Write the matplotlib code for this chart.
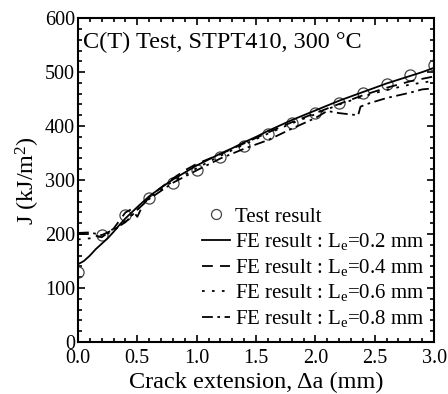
import matplotlib
matplotlib.use("Agg")
import matplotlib.pyplot as plt
from matplotlib.ticker import MultipleLocator

plt.rcParams["font.family"] = ["Liberation Serif", "DejaVu Serif"]
plt.rcParams["mathtext.fontset"] = "custom"
plt.rcParams["mathtext.rm"] = "Liberation Serif"
plt.rcParams["mathtext.it"] = "Liberation Serif:italic"

# test data
test_x = [0.0, 0.2, 0.4, 0.6, 0.8, 1.0, 1.2, 1.4, 1.6, 1.8, 2.0, 2.2, 2.4, 2.6, 2.8, 3.0]
test_j = [130, 198, 235, 267, 294, 318, 343, 363, 385, 405, 424, 442, 461, 478, 494, 513]

# FE results
fe02_x = [0.0, 0.05, 0.1, 0.15, 0.2, 0.25, 0.3, 0.35, 0.4, 0.5, 0.6, 0.7, 0.8, 0.9, 1.0, 1.1,
          1.2, 1.3, 1.4, 1.5, 1.6, 1.7, 1.8, 1.9, 2.0, 2.1, 2.2, 2.3, 2.4, 2.5, 2.6, 2.7,
          2.8, 2.9, 3.0]
fe02_j = [144, 150, 160, 172, 182, 192, 204, 217, 229, 250, 270, 286, 301, 314, 327, 338,
          349, 359, 370, 380, 391, 401, 411, 420, 429, 438, 447, 455, 463, 471, 479, 486,
          493, 500, 508]

fe04_x = [0.0, 0.1, 0.2, 0.3, 0.4, 0.45, 0.5, 0.55, 0.6, 0.7, 0.8, 0.9, 1.0, 1.2, 1.4,
          1.6, 1.8, 2.0, 2.2, 2.4, 2.6, 2.8, 3.0]
fe04_j = [200, 200, 194, 210, 240, 246, 232, 255, 268, 286, 303, 318, 330, 348, 368,
          388, 407, 424, 441, 457, 471, 483, 492]

fe06_x = [0.0, 0.1, 0.2, 0.3, 0.4, 0.5, 0.6, 0.8, 1.0, 1.2, 1.4, 1.6, 1.8, 2.0, 2.2,
          2.4, 2.6, 2.8, 3.0]
fe06_j = [190, 192, 196, 206, 224, 245, 267, 298, 322, 345, 366, 386, 405, 422, 440,
          455, 467, 477, 484]

fe08_x = [0.0, 0.1, 0.2, 0.3, 0.4, 0.5, 0.6, 0.8, 1.0, 1.2, 1.4, 1.6, 1.8, 1.9, 2.0,
          2.1, 2.2, 2.36, 2.38, 2.45, 2.6, 2.8, 2.9, 3.0]
fe08_j = [202, 203, 198, 208, 222, 245, 265, 295, 318, 340, 358, 374, 395, 405, 415,
          428, 424, 420, 436, 442, 452, 462, 468, 470]

fig = plt.figure(figsize=(4.48, 3.94), dpi=100)
ax = fig.add_axes([0.174, 0.132, 0.795, 0.822])

ax.plot(test_x, test_j, "o", ms=8, mfc="none", mec="#444444", mew=0.9, label="Test result")
ax.plot(fe02_x, fe02_j, "-", color="black", lw=1.3, label="FE result : L$_\\mathrm{e}$=0.2 mm")
ax.plot(fe04_x, fe04_j, color="black", lw=1.3, dashes=(6, 4),
        label="FE result : L$_\\mathrm{e}$=0.4 mm")
ax.plot(fe06_x, fe06_j, color="black", lw=1.3, dashes=(1.5, 4),
        label="FE result : L$_\\mathrm{e}$=0.6 mm")
ax.plot(fe08_x, fe08_j, color="black", lw=1.3, dashes=(6, 2.5, 1.5, 2.5),
        label="FE result : L$_\\mathrm{e}$=0.8 mm")

ax.set_xlim(0, 3.0)
ax.set_ylim(0, 600)
ax.xaxis.set_major_locator(MultipleLocator(0.5))
ax.xaxis.set_minor_locator(MultipleLocator(0.1))
ax.yaxis.set_major_locator(MultipleLocator(100))
ax.yaxis.set_minor_locator(MultipleLocator(20))
ax.xaxis.set_major_formatter(plt.FormatStrFormatter("%.1f"))
ax.tick_params(which="both", direction="in", top=True, right=True, labelsize=14.5, width=1.2)
ax.tick_params(which="major", length=5)
ax.tick_params(which="minor", length=3)
ax.tick_params(axis="y", pad=2)
ax.tick_params(axis="x", pad=5)
for s in ax.spines.values():
    s.set_linewidth(1.5)

ax.set_xlabel("Crack extension, \u0394a (mm)", fontsize=17.5, labelpad=3)
ax.set_ylabel("J (kJ/m$^2$)", fontsize=17.5, labelpad=2)
ax.text(0.013, 0.925, "C(T) Test, STPT410, 300 \u00b0C", transform=ax.transAxes,
        fontsize=17.5, va="center", ha="left")

ax.legend(loc="lower right", bbox_to_anchor=(1.012, -0.005), frameon=False, fontsize=15,
          handlelength=1.35, handletextpad=0.2, labelspacing=0.22, borderaxespad=0.3,
          markerscale=0.9)

fig.savefig("out.png", dpi=100)
